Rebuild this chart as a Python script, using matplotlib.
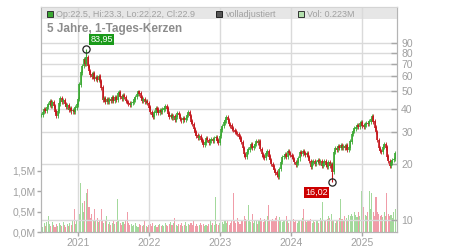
import pandas as pd
import matplotlib
matplotlib.use("Agg")
import matplotlib.pyplot as plt
from matplotlib.patches import Rectangle

plt.rcParams['font.family'] = ['Liberation Sans', 'DejaVu Sans']

# weekly closing prices, first week = 2020-06-26
closes = [
    37.0, 38.2, 39.5, 38.8, 40.6, 42.0, 43.8, 41.5, 43.0, 41.2,
    38.5, 36.4, 38.9, 42.5, 45.3, 43.6, 44.5, 42.4, 40.8, 41.5,
    39.2, 40.1, 38.6, 39.3, 38.2, 40.5, 42.0, 45.0, 54.0, 62.5,
    68.0, 74.0, 69.5, 76.0, 68.0, 64.0, 61.0, 59.5, 62.0, 57.5,
    59.0, 56.8, 59.6, 56.5, 52.0, 44.5, 45.2, 43.2, 44.8, 43.6,
    45.0, 44.2, 46.0, 43.8, 45.8, 44.6, 48.5, 49.2, 46.5, 45.2,
    47.0, 46.0, 44.0, 43.2, 42.5, 41.6, 42.8, 43.5, 44.8, 46.2,
    48.0, 49.3, 48.2, 45.8, 44.2, 45.0, 43.4, 44.0, 42.8, 40.5,
    38.2, 37.0, 36.2, 38.0, 40.2, 39.5, 38.0, 39.0, 38.2, 39.5,
    40.0, 41.2, 40.0, 37.5, 36.0, 36.8, 35.5, 36.2, 34.8, 36.0,
    37.6, 37.0, 35.0, 34.5, 35.6, 34.8, 35.5, 36.8, 38.2, 36.5,
    34.0, 33.0, 31.0, 29.6, 28.6, 27.8, 28.4, 27.2, 26.6, 25.5,
    26.2, 27.6, 27.0, 26.0, 26.6, 27.4, 26.8, 27.6, 28.0, 26.8,
    26.0, 28.5, 30.8, 32.2, 33.6, 34.5, 35.8, 34.6, 33.0, 32.4,
    31.2, 30.5, 30.0, 29.4, 29.0, 28.2, 27.5, 26.4, 24.5, 22.6,
    22.0, 23.2, 24.0, 24.8, 25.5, 24.6, 25.0, 25.8, 26.6, 26.0,
    26.5, 24.2, 22.6, 22.0, 21.6, 22.8, 23.5, 22.0, 21.0, 20.0,
    19.4, 18.6, 18.0, 17.5, 17.0, 18.8, 20.5, 21.8, 22.2, 22.6,
    22.0, 23.4, 23.0, 22.4, 22.0, 21.4, 20.6, 19.8, 20.4, 21.5,
    23.2, 22.8, 23.6, 22.9, 22.4, 23.0, 21.8, 20.8, 19.4, 20.4,
    20.8, 20.1, 20.5, 21.0, 20.4, 20.8, 19.7, 20.2, 20.7, 19.9,
    19.3, 20.6, 19.6, 19.9, 18.2, 23.2, 24.5, 24.0, 24.9, 24.6,
    25.2, 24.4, 25.0, 24.6, 25.3, 23.9, 24.6, 26.5, 29.0, 30.2,
    31.2, 31.8, 32.5, 32.0, 33.2, 33.6, 32.4, 31.8, 32.8, 33.5,
    33.0, 34.0, 35.0, 36.5, 34.0, 31.5, 29.8, 27.0, 24.5, 23.6,
    23.2, 24.8, 25.6, 24.6, 22.0, 20.8, 19.6, 20.4, 21.0, 21.4,
    22.9,
]

# volume in millions
volumes = [
    0.18, 0.12, 0.22, 0.15, 0.25, 0.40, 0.20, 0.14, 0.24, 0.16,
    0.12, 0.20, 0.15, 0.22, 0.18, 0.14, 0.25, 0.16, 0.12, 0.20,
    0.15, 0.22, 0.18, 0.26, 0.55, 0.20, 0.28, 0.32, 0.45, 1.20,
    0.70, 0.48, 0.75, 0.95, 1.05, 0.60, 0.35, 0.45, 0.30, 0.55,
    0.28, 0.35, 0.25, 0.30, 0.55, 0.30, 0.22, 0.26, 0.40, 0.20,
    0.24, 0.18, 0.22, 0.30, 0.20, 0.25, 0.80, 0.30, 0.22, 0.18,
    0.25, 0.20, 0.28, 0.50, 0.22, 0.16, 0.20, 0.14, 0.18, 0.22,
    0.15, 0.12, 0.20, 0.16, 0.14, 0.18, 0.30, 0.15, 0.12, 0.18,
    0.20, 0.15, 0.22, 0.14, 0.18, 0.12, 0.16, 0.20, 0.14, 0.18,
    0.15, 0.22, 0.18, 0.14, 0.20, 0.25, 0.16, 0.22, 0.35, 0.18,
    0.14, 0.20, 0.16, 0.22, 0.15, 0.18, 0.25, 0.14, 0.20, 0.16,
    0.22, 0.18, 0.26, 0.15, 0.20, 0.14, 0.18, 0.22, 0.16, 0.20,
    0.14, 0.18, 0.15, 0.20, 0.26, 0.16, 0.22, 0.18, 0.85, 0.20,
    0.16, 0.22, 0.18, 0.25, 0.20, 0.30, 0.22, 0.26, 0.18, 0.22,
    0.28, 0.95, 0.30, 0.22, 0.35, 0.25, 0.20, 0.28, 0.30, 0.40,
    0.32, 0.28, 0.65, 0.30, 0.25, 0.45, 0.22, 0.30, 0.26, 0.20,
    0.28, 0.35, 0.30, 0.25, 0.32, 0.28, 0.40, 0.65, 0.30, 0.26,
    0.32, 0.28, 0.35, 0.40, 0.30, 0.36, 0.28, 0.25, 0.30, 0.26,
    0.40, 0.28, 0.22, 0.30, 0.26, 0.32, 0.24, 0.28, 0.22, 0.30,
    0.26, 0.30, 0.35, 0.55, 0.28, 0.24, 0.30, 0.26, 0.32, 0.22,
    0.28, 0.24, 0.30, 0.26, 0.22, 0.35, 0.28, 0.72, 0.30, 0.26,
    0.32, 0.40, 0.35, 0.45, 0.30, 0.26, 0.22, 0.30, 0.28, 0.35,
    0.80, 0.32, 0.28, 0.40, 0.35, 0.30, 0.42, 0.38, 0.45, 0.40,
    0.50, 0.42, 0.36, 0.48, 0.40, 1.00, 0.45, 0.60, 0.42, 0.38,
    0.50, 1.00, 0.55, 0.95, 0.48, 0.40, 0.85, 0.50, 0.45, 0.38,
    0.42, 0.36, 0.48, 0.40, 0.95, 0.45, 0.38, 0.42, 0.35, 0.50,
    0.55,
]

peak_date, peak_val = "2021-02-12", 83.95
low_date, low_val = "2024-08-02", 16.02

price_ticks = [10, 20, 30, 40, 50, 60, 70, 80, 90]
vol_ticks = [0.0, 0.5, 1.0, 1.5]
vol_labels = ["0,0M", "0,5M", "1,0M", "1,5M"]
years = [2021, 2022, 2023, 2024, 2025]

dates = pd.date_range("2020-06-26", periods=len(closes), freq="7D")
opens = [closes[0]] + closes[:-1]
up = [c >= o for o, c in zip(opens, closes)]

GREEN = "#3aa832"
RED = "#c4161c"
GRID = "#dadada"
TXT = "#a0a0a0"

fig = plt.figure(figsize=(4.5, 2.5), dpi=100)
ax_vol = fig.add_axes([41 / 450, 18 / 250, 356 / 450, 225 / 250])
ax = ax_vol.twinx()

# volume
vcol = ["#a3d99c" if u else "#f09ca8" for u in up]
ax_vol.bar(dates, volumes, width=5.5, color=vcol, linewidth=0)
ax_vol.set_ylim(0, 5.49)
ax_vol.set_yticks(vol_ticks)
ax_vol.set_yticklabels(vol_labels)

# price candles: thin wick + body
ax.set_yscale("log")
ax.set_ylim(8.61, 141.7)
lo = [min(o, c) for o, c in zip(opens, closes)]
hi = [max(o, c) * 1.004 for o, c in zip(opens, closes)]
ccol = [GREEN if u else RED for u in up]
ax.vlines(dates, [v * 0.975 for v in lo], [v * 1.025 for v in hi],
          colors=ccol, linewidth=0.6, zorder=3)
ax.vlines(dates, lo, hi, colors=ccol, linewidth=1.2, zorder=3)

pd_ = pd.Timestamp(peak_date)
ld_ = pd.Timestamp(low_date)
pk_close = closes[list(dates).index(pd_)]
lw_close = closes[list(dates).index(ld_)]
ax.vlines([pd_], pk_close, peak_val, colors=GREEN, linewidth=0.8, zorder=3)
ax.vlines([ld_], low_val, lw_close, colors=RED, linewidth=0.8, zorder=3)
ax.plot([pd_, ld_], [peak_val, low_val], "o", ms=5.2, mfc="none", mec="#222222", mew=0.9, zorder=5)
ax.annotate("83,95", (pd_, peak_val), xytext=(4, 5), textcoords="offset pixels",
            ha="left", va="bottom", fontsize=6.5, color="white", zorder=6,
            bbox=dict(boxstyle="square,pad=0.15", fc="#1a9a1a", ec="none"))
ax.annotate("16,02", (ld_, low_val), xytext=(-5, -6), textcoords="offset pixels",
            ha="right", va="top", fontsize=6.5, color="white", zorder=6,
            bbox=dict(boxstyle="square,pad=0.15", fc="#cc0000", ec="none"))

ax.set_yticks(price_ticks)
ax.set_yticklabels([str(t) for t in price_ticks])
ax.yaxis.set_minor_locator(matplotlib.ticker.NullLocator())
ax.grid(True, axis="y", color=GRID, linewidth=1, zorder=1)
for y in years:
    ax.axvline(pd.Timestamp(f"{y}-01-01"), color=GRID, linewidth=1, zorder=1)

ax_vol.set_xlim(pd.Timestamp("2020-06-24"), pd.Timestamp("2025-06-30"))
ax_vol.set_xticks([pd.Timestamp(f"{y}-01-01") for y in years])
ax_vol.set_xticklabels([str(y) for y in years])

# header band
ax.add_patch(Rectangle((0, 0.9467), 1, 0.0533, transform=ax.transAxes,
                       fc="#e6e6e6", ec="none", zorder=0.5))
ax.text(0.0169, 0.90, "5 Jahre, 1-Tages-Kerzen", transform=ax.transAxes,
        fontsize=8.5, fontweight="bold", color="#8c8c8c", va="center", ha="left", zorder=6)
hy = 0.9667
ax.plot([0.0239], [hy], "s", ms=4, mfc="#3aa832", mec="#333333", mew=0.7,
        transform=ax.transAxes, zorder=6, clip_on=False)
ax.text(0.0421, hy, "Op:22.5, Hi:23.3, Lo:22.22, Cl:22.9", transform=ax.transAxes,
        fontsize=6.5, color=TXT, va="center", ha="left", zorder=6)
ax.plot([0.5], [hy], "s", ms=4, mfc="#555555", mec="#222222", mew=0.7,
        transform=ax.transAxes, zorder=6, clip_on=False)
ax.text(0.5197, hy, "volladjustiert", transform=ax.transAxes,
        fontsize=6.5, color=TXT, va="center", ha="left", zorder=6)
ax.plot([0.729], [hy], "s", ms=4, mfc="#b3e0ad", mec="#333333", mew=0.7,
        transform=ax.transAxes, zorder=6, clip_on=False)
ax.text(0.7472, hy, "Vol: 0.223M", transform=ax.transAxes,
        fontsize=6.5, color=TXT, va="center", ha="left", zorder=6)

# axes styling
for a in (ax, ax_vol):
    a.spines["top"].set_color("#d4d4d4")
    a.spines["left"].set_color("#b4b4b4")
    a.spines["right"].set_color("#b4b4b4")
    a.spines["bottom"].set_color("#b4b4b4")
ax.tick_params(axis="y", direction="in", length=4, width=1, color="#a8a8a8",
               labelsize=7.5, labelcolor=TXT, pad=3)
ax_vol.tick_params(axis="y", direction="out", length=3, width=1, color="#a8a8a8",
                   labelsize=7.5, labelcolor=TXT, pad=1)
ax_vol.tick_params(axis="x", direction="out", length=3, width=1, color="#a8a8a8",
                   labelsize=7.5, labelcolor=TXT, pad=1)

fig.savefig("out.png", dpi=100)
